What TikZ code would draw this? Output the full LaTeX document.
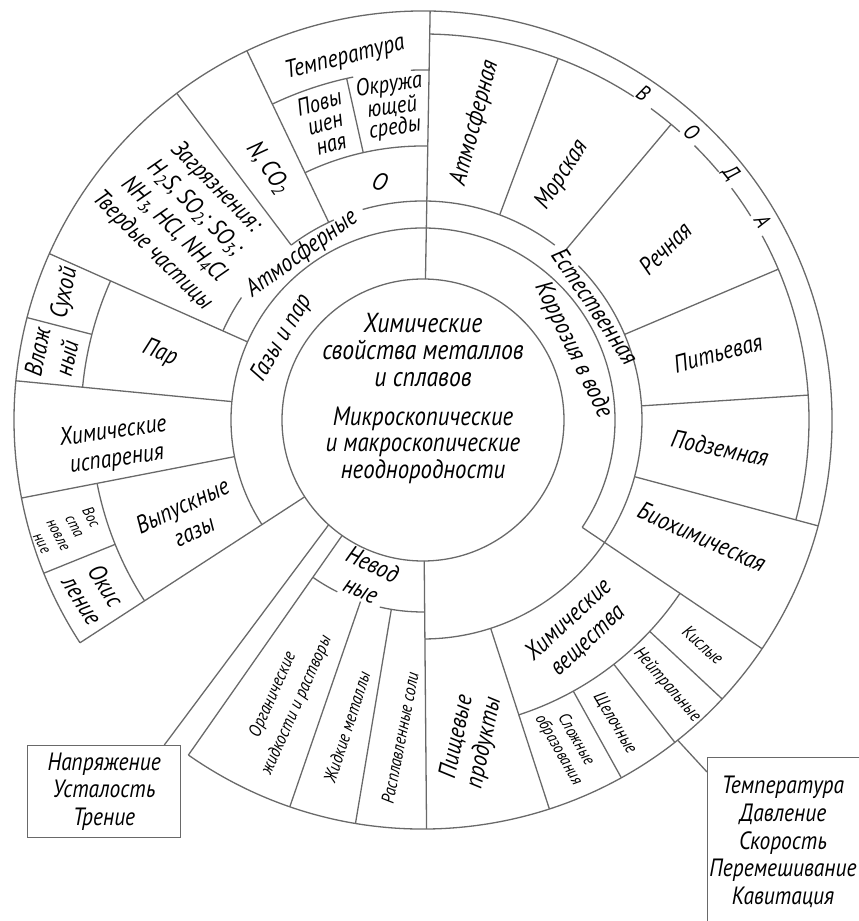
\documentclass[tikz,border=0pt]{standalone}
\usepackage{fontspec}
\setmainfont{PT Sans}[FakeStretch=0.86]
\usetikzlibrary{calc}
\definecolor{lncol}{RGB}{105,105,105}
\newcommand\ringarc[3]{\draw[lin] (#2:#1pt) arc[start angle=#2,end angle=#3,radius=#1pt];}
\newcommand\spoke[3]{\draw[lin] (#1:#2pt) -- (#1:#3pt);}
\begin{document}
\begin{tikzpicture}[x=1pt,y=1pt,
  lin/.style={draw=lncol,line width=1.3pt},
  lbl/.style={font=\itshape\fontsize{25}{27}\selectfont,align=center,inner sep=0pt},
  sm/.style={font=\itshape\fontsize{18}{20}\selectfont,align=center,inner sep=0pt},
  letter/.style={font=\itshape\fontsize{22}{24}\selectfont,inner sep=0pt}]
\useasboundingbox (-423,-501) rectangle (436,420);
% ---- circles and arcs
\draw[lin] (0,0) circle (141pt);
\ringarc{409}{235}{573}
% thin ring (water)
\ringarc{386}{-15}{28.5}
\ringarc{386}{31.9}{36.9}
\ringarc{386}{40}{45.3}
\ringarc{386}{48.3}{53.8}
\ringarc{386}{56.9}{89}
% ring 1
\ringarc{192}{-34}{89}
\ringarc{192}{89}{213}
\ringarc{192}{235}{243.5}
\ringarc{192}{257}{270.5}
% ring 2
\ringarc{219}{-89.5}{44.8}
\ringarc{219}{53}{89}
\ringarc{219}{89}{106}
\ringarc{219}{114}{127}
\ringarc{219}{146}{156}
% other arcs
\ringarc{274}{89}{115.5}
\ringarc{350}{101.5}{115.5}
\ringarc{350}{89}{92}
\ringarc{342}{156}{174.5}
\ringarc{332}{191}{213}
\ringarc{310}{-72}{-34}
% ---- radial lines
\spoke{89}{141}{409}
\spoke{115.5}{219}{409}
\spoke{127}{219}{409}
\spoke{102.6}{274}{350}
\spoke{156}{192}{409}
\spoke{165.5}{342}{409}
\spoke{174.5}{192}{409}
\spoke{191}{192}{409}
\spoke{202}{332}{409}
\spoke{213}{141}{409}
\spoke{235}{141}{409}
\spoke{251}{192}{409}
\spoke{260.5}{192}{409}
\spoke{270.5}{141}{409}
\spoke{-72}{219}{409}
\spoke{-61}{310}{409}
\spoke{-52}{310}{409}
\spoke{-43}{310}{409}
\spoke{-34}{192}{409}
\spoke{-15}{219}{409}
\spoke{3.7}{219}{386}
\spoke{23}{219}{386}
\spoke{50}{219}{386}
\spoke{69.5}{219}{386}
% ---- boxes and connectors
\node[lin,draw,minimum width=153pt,minimum height=92pt,anchor=north west,inner sep=0pt] (boxL) at (-396,-325) {};
\node[lbl,font=\itshape\fontsize{25}{27.5}\selectfont] (boxLtxt) at (boxL.center) {Напряжение\\Усталость\\Трение};
\node[lin,draw,minimum width=175pt,minimum height=185pt,anchor=north west,inner sep=0pt] (boxR) at (284,-337) {};
\node[lbl,font=\itshape\fontsize{25}{27.7}\selectfont] (boxRtxt) at (360,-422) {Температура\\Давление\\Скорость\\Перемешивание\\Кавитация};
\coordinate (cL) at (228:141pt);
\coordinate (cR) at (-51.5:409pt);
\draw[lin] (cL) -- ($(boxL.north east)+(-17,0)$);
\draw[lin] (cR) -- ($(boxR.north west)+(0,-15)$);
% ---- labels
\node[lbl,font=\itshape\fontsize{27.5}{27}\selectfont] (ctrA) at (0,70) {Химические\\свойства металлов\\и сплавов};
\node[lbl,font=\itshape\fontsize{26.5}{26.5}\selectfont] (ctrB) at (0,-25) {Микроскопические\\и макроскопические\\неоднородности};
\node[lbl,rotate=59] (gaz) at (-141,82) {Газы и пар};
\node[lbl,rotate=36] (atm) at (-121,166) {Атмосферные};
\node[lbl,rotate=-64] (korr) at (150,70) {Коррозия в воде};
\node[lbl,rotate=-56] (est) at (172,114) {Естественная};
\node[lbl,rotate=-25,font=\itshape\fontsize{25}{28}\selectfont] (nevod) at (-56,-157) {Невод\\ные};
\node[lbl,rotate=75] (watA) at (52,297) {Атмосферная};
\node[lbl,rotate=57] (watM) at (139,245) {Морская};
\node[lbl,rotate=45] (watR) at (242,172) {Речная};
\node[lbl,rotate=15] (watP) at (295,67) {Питьевая};
\node[lbl,rotate=-12] (watU) at (297,-28) {Подземная};
\node[lbl,rotate=-24] (bio) at (279,-117) {Биохимическая};
\node[lbl,rotate=43,font=\itshape\fontsize{25}{28}\selectfont] (chem) at (155,-210) {Химические\\вещества};
\node[sm,rotate=-42] (acid) at (280,-225) {Кислые};
\node[sm,rotate=-49] (neut) at (244,-265) {Нейтральные};
\node[sm,rotate=-59] (alk) at (192,-303) {Щелочные};
\node[sm,rotate=-60,font=\itshape\fontsize{17}{20}\selectfont] (cmpx) at (144,-325) {Сложные\\образования};
\node[lbl,rotate=78,font=\itshape\fontsize{25}{28}\selectfont] (food) at (48,-320) {Пищевые\\продукты};
\node[sm,rotate=79] (salt) at (-23,-318) {Расплавленные соли};
\node[sm,rotate=72] (metl) at (-76,-307) {Жидкие металлы};
\node[sm,rotate=66,font=\itshape\fontsize{18}{26}\selectfont] (orgn) at (-138,-280) {Органические\\жидкости и растворы};
\node[lbl,rotate=14] (temp) at (-78,362) {Температура};
\node[lbl,rotate=16,font=\itshape\fontsize{24}{21.5}\selectfont] (high) at (-98,297) {Повы\\шен\\ная};
\node[lbl,rotate=8,font=\itshape\fontsize{24}{20.5}\selectfont] (amb) at (-31,313) {Окружа\\ющей\\среды};
\node[lbl,rotate=-20] (oxy) at (-43,238) {O};
\node[lbl,rotate=-55] (nco) at (-155,252) {N, CO\textsubscript{2}};
\node[lbl,rotate=-45,font=\itshape\fontsize{24.5}{30}\selectfont] (poll) at (-239,201) {Загрязнения:\\H\textsubscript{2}S, SO\textsubscript{2}; SO\textsubscript{3};\\NH\textsubscript{3}, HCl, NH\textsubscript{4}Cl\\Твердые частицы};
\node[lbl,rotate=-22] (steam) at (-263,67) {Пар};
\node[lbl,rotate=78] (dry) at (-358,127) {Сухой};
\node[lbl,rotate=78,font=\itshape\fontsize{25}{30}\selectfont] (wet) at (-371,65) {Влаж\\ный};
\node[lbl,rotate=8,font=\itshape\fontsize{25}{28}\selectfont] (vap) at (-308,-26) {Химические\\испарения};
\node[lbl,rotate=25,font=\itshape\fontsize{25}{28}\selectfont] (exh) at (-235,-98) {Выпускные\\газы};
\node[lbl,rotate=-62,font=\itshape\fontsize{16}{18.5}\selectfont] (red) at (-356,-110) {Вос\\ста\\новле\\ние};
\node[lbl,rotate=-58,font=\itshape\fontsize{25}{28}\selectfont] (oxid) at (-329,-173) {Окис\\ление};
\node[letter,rotate=-34] (lV) at (56:394pt) {В};
\node[letter,rotate=-43] (lO) at (47:394pt) {О};
\node[letter,rotate=-51] (lD) at (38.7:394pt) {Д};
\node[letter,rotate=-59] (lA) at (30.4:394pt) {А};
\end{tikzpicture}
\end{document}
